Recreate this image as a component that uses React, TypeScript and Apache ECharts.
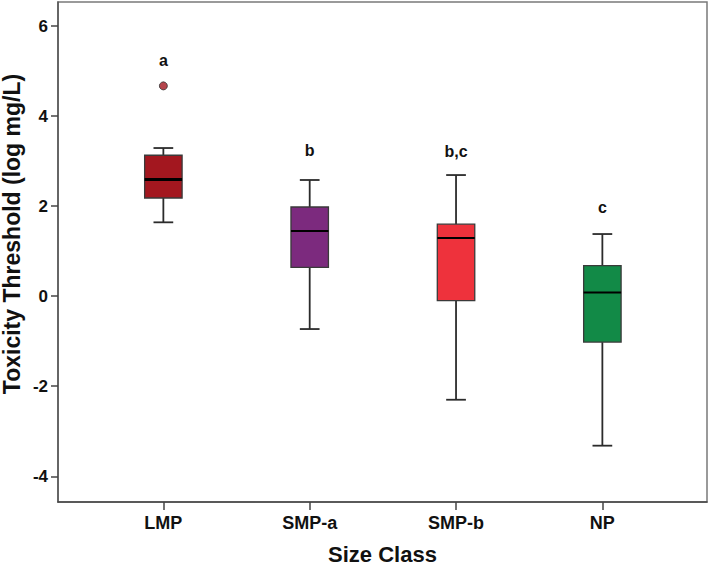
import { useEffect, useRef } from "react";
import * as echarts from "echarts";

const categories = ["LMP", "SMP-a", "SMP-b", "NP"];
const whiskerLow = [1.64, -0.73, -2.3, -3.32];
const q1 = [2.18, 0.64, -0.1, -1.02];
const medians = [2.59, 1.45, 1.29, 0.08];
const q3 = [3.13, 1.98, 1.6, 0.68];
const whiskerHigh = [3.29, 2.58, 2.69, 1.38];
const outliers = [[0, 4.67]];
const groupLetters = ["a", "b", "b,c", "c"];
const letterY = [5.23, 3.24, 3.21, 1.98];
const yTicks = [-4, -2, 0, 2, 4, 6];
const xTicks = [0, 1, 2, 3];
const colors = ["#A3171F", "#7C2A7E", "#EE323C", "#128A47"];

const FONT = "'Liberation Sans', Arial, Helvetica, sans-serif";

export default function App() {
  const ref = useRef<HTMLDivElement>(null);
  useEffect(() => {
    if (!ref.current) return;
    const chart = echarts.init(ref.current, undefined, { renderer: "svg" });
    const boxData = categories.map((_, i) => [
      i,
      whiskerLow[i],
      q1[i],
      medians[i],
      q3[i],
      whiskerHigh[i],
    ]);
    const letterData = categories.map((_, i) => [i, letterY[i]]);
    const option: any = {
      animation: false,
      backgroundColor: "#ffffff",
      grid: {
        left: 58,
        right: 3,
        top: 2,
        bottom: 63,
        containLabel: false,
        outerBoundsMode: "none",
        show: true,
        borderColor: "#7a7a7a",
        borderWidth: 1.5,
        backgroundColor: "transparent",
      },
      xAxis: {
        type: "value",
        min: -0.72,
        max: 3.715,
        splitLine: { show: false },
        axisLine: { show: true, onZero: false, lineStyle: { color: "#444", width: 1.5 } },
        axisTick: {
          show: true,
          customValues: xTicks,
          length: 8,
          lineStyle: { color: "#444", width: 1.5 },
        },
        axisLabel: {
          customValues: xTicks,
          formatter: (v: number) => categories[Math.round(v)] ?? "",
          margin: 12,
          fontSize: 18,
          fontWeight: "bold",
          color: "#111",
          fontFamily: FONT,
        },
        name: "Size Class",
        nameLocation: "middle",
        nameGap: 42,
        nameTextStyle: {
          fontSize: 22,
          lineHeight: 20,
          fontWeight: "bold",
          color: "#111",
          fontFamily: FONT,
        },
      },
      yAxis: {
        type: "value",
        min: -4.571,
        max: 6.533,
        splitLine: { show: false },
        axisLine: { show: true, onZero: false, lineStyle: { color: "#555", width: 1.5 } },
        axisTick: {
          show: true,
          customValues: yTicks,
          length: 7,
          lineStyle: { color: "#444", width: 1.5 },
        },
        axisLabel: {
          customValues: yTicks,
          margin: 10,
          fontSize: 17,
          fontWeight: "bold",
          color: "#111",
          fontFamily: FONT,
        },
      },
      graphic: [
        {
          type: "text",
          x: 12,
          y: 234,
          rotation: Math.PI / 2,
          style: {
            text: "Toxicity Threshold (log mg/L)",
            textAlign: "center",
            textVerticalAlign: "middle",
            fontSize: 23,
            fontWeight: "bold",
            fill: "#111",
            fontFamily: FONT,
          },
        },
      ],
      series: [
        {
          type: "custom",
          data: boxData,
          encode: { x: 0, y: [1, 2, 3, 4, 5] },
          renderItem: (params: any, api: any) => {
            const i = api.value(0);
            const xc = api.coord([i, 0])[0];
            const yLow = api.coord([i, api.value(1)])[1];
            const yQ1 = api.coord([i, api.value(2)])[1];
            const yMed = api.coord([i, api.value(3)])[1];
            const yQ3 = api.coord([i, api.value(4)])[1];
            const yHigh = api.coord([i, api.value(5)])[1];
            const bw = api.size([0.256, 0])[0];
            const cap = bw / 2;
            const lineStyle = { stroke: "#2b2b2b", lineWidth: 1.8 };
            return {
              type: "group",
              children: [
                { type: "line", shape: { x1: xc, y1: yHigh, x2: xc, y2: yQ3 }, style: lineStyle },
                { type: "line", shape: { x1: xc, y1: yQ1, x2: xc, y2: yLow }, style: lineStyle },
                { type: "line", shape: { x1: xc - cap / 2 - 0.5, y1: yHigh, x2: xc + cap / 2 + 0.5, y2: yHigh }, style: lineStyle },
                { type: "line", shape: { x1: xc - cap / 2 - 0.5, y1: yLow, x2: xc + cap / 2 + 0.5, y2: yLow }, style: lineStyle },
                {
                  type: "rect",
                  shape: { x: xc - bw / 2, y: yQ3, width: bw, height: yQ1 - yQ3 },
                  style: { fill: colors[i], stroke: "#3a3a3a", lineWidth: 1.3 },
                },
                {
                  type: "line",
                  shape: { x1: xc - bw / 2, y1: yMed, x2: xc + bw / 2, y2: yMed },
                  style: { stroke: "#000", lineWidth: i === 0 ? 3 : 2 },
                },
              ],
            };
          },
          z: 3,
        },
        {
          type: "scatter",
          data: outliers,
          symbol: "circle",
          symbolSize: 8,
          itemStyle: { color: colors[0], borderColor: "#333", borderWidth: 1 },
          z: 4,
        },
        {
          type: "custom",
          data: letterData,
          encode: { x: 0, y: 1 },
          renderItem: (params: any, api: any) => {
            const i = api.value(0);
            const pt = api.coord([i, api.value(1)]);
            return {
              type: "text",
              x: pt[0],
              y: pt[1],
              style: {
                text: groupLetters[i],
                textAlign: "center",
                textVerticalAlign: "middle",
                fontSize: 16,
                fontWeight: "bold",
                fill: "#111",
                fontFamily: FONT,
              },
            };
          },
          z: 5,
        },
      ],
    };
    chart.setOption(option);
    return () => chart.dispose();
  }, []);
  return (
    <div
      ref={ref}
      style={{ position: "absolute", left: 0, top: 0, width: 710, height: 565, background: "#fff" }}
    />
  );
}
